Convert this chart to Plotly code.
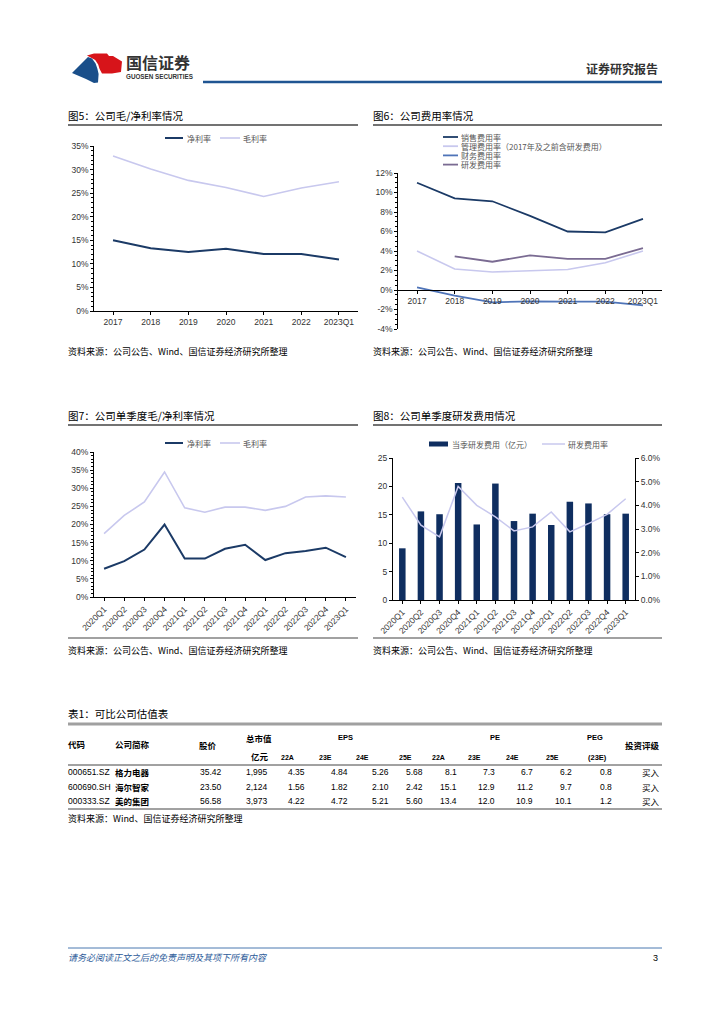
import plotly.graph_objects as go

# page is rendered inside a body with an 8px margin: keep the figure inside the window
OFF = 8
W, H = 708, 1008
FONT = "Liberation Sans, Noto Sans CJK SC, sans-serif"
CJK = "Noto Sans CJK SC, Liberation Sans, sans-serif"

# ---------------- data ----------------
years = ["2017", "2018", "2019", "2020", "2021", "2022", "2023Q1"]
net_margin_annual = [15.0, 13.3, 12.5, 13.2, 12.1, 12.1, 10.9]
gross_margin_annual = [32.9, 30.1, 27.7, 26.2, 24.3, 26.1, 27.4]

sales_exp = [11.0, 9.4, 9.1, 7.6, 6.0, 5.9, 7.3]
admin_exp = [4.0, 2.15, 1.85, 2.0, 2.1, 2.8, 4.0]
fin_exp = [0.27, -0.58, -1.26, -1.16, -1.2, -1.2, -1.57]
rd_exp = [None, 3.45, 2.9, 3.55, 3.2, 3.2, 4.3]
exp_ticks = [-4, -2, 0, 2, 4, 6, 8, 10, 12]
exp_ticklabels = ["-4%", "-2%", "0%", "2%", "4%", "6%", "8%", "10%", "12%"]

quarters = ["2020Q1", "2020Q2", "2020Q3", "2020Q4", "2021Q1", "2021Q2", "2021Q3",
            "2021Q4", "2022Q1", "2022Q2", "2022Q3", "2022Q4", "2023Q1"]
net_margin_q = [7.8, 9.9, 13.1, 20.0, 10.6, 10.6, 13.3, 14.4, 10.2, 12.1, 12.7, 13.6, 11.0]
gross_margin_q = [17.5, 22.5, 26.2, 34.5, 24.6, 23.4, 24.8, 24.8, 23.9, 25.0, 27.6, 27.9, 27.6]
rd_amount_q = [9.1, 15.6, 15.1, 20.6, 13.3, 20.5, 13.9, 15.2, 13.2, 17.3, 17.0, 15.1, 15.2]
rd_ratio_q = [4.35, 3.16, 2.67, 4.8, 4.0, 3.51, 2.92, 3.09, 3.72, 2.88, 3.23, 3.62, 4.28]

codes = ["000651.SZ", "600690.SH", "000333.SZ"]
names = ["格力电器", "海尔智家", "美的集团"]
prices = [35.42, 23.50, 56.58]
mktcaps = [1995, 2124, 3973]
eps = [[4.35, 4.84, 5.26, 5.68], [1.56, 1.82, 2.10, 2.42], [4.22, 4.72, 5.21, 5.60]]
pe = [[8.1, 7.3, 6.7, 6.2], [15.1, 12.9, 11.2, 9.7], [13.4, 12.0, 10.9, 10.1]]
peg = [0.8, 0.8, 1.2]
ratings = ["买入", "买入", "买入"]
year_cols = ["22A", "23E", "24E", "25E"]

# ---------------- colours ----------------
NAVY = "#1b3a66"
LAV = "#c8c8ee"
FINBLUE = "#4f74b8"
RDPURP = "#7a6b92"
BAR = "#0f2e60"


def px(x):
    return (x - OFF) / W


def py(y):
    return 1 - (y - OFF) / H


fig = go.Figure()

# chart 5
fig.add_trace(go.Scatter(x=years, y=net_margin_annual, xaxis="x", yaxis="y", mode="lines",
                         line=dict(color=NAVY, width=2), showlegend=False))
fig.add_trace(go.Scatter(x=years, y=gross_margin_annual, xaxis="x", yaxis="y", mode="lines",
                         line=dict(color=LAV, width=1.6), showlegend=False))
# chart 6
fig.add_trace(go.Scatter(x=years, y=sales_exp, xaxis="x2", yaxis="y2", mode="lines",
                         line=dict(color=NAVY, width=1.8), showlegend=False))
fig.add_trace(go.Scatter(x=years, y=admin_exp, xaxis="x2", yaxis="y2", mode="lines",
                         line=dict(color=LAV, width=1.6), showlegend=False))
fig.add_trace(go.Scatter(x=years, y=fin_exp, xaxis="x2", yaxis="y2", mode="lines",
                         line=dict(color=FINBLUE, width=1.8), showlegend=False))
fig.add_trace(go.Scatter(x=years, y=rd_exp, xaxis="x2", yaxis="y2", mode="lines",
                         line=dict(color=RDPURP, width=1.8), showlegend=False))
# chart 7
fig.add_trace(go.Scatter(x=quarters, y=net_margin_q, xaxis="x3", yaxis="y3", mode="lines",
                         line=dict(color=NAVY, width=2), showlegend=False))
fig.add_trace(go.Scatter(x=quarters, y=gross_margin_q, xaxis="x3", yaxis="y3", mode="lines",
                         line=dict(color=LAV, width=1.6), showlegend=False))
# chart 8
fig.add_trace(go.Bar(x=quarters, y=rd_amount_q, xaxis="x4", yaxis="y4", marker_color=BAR,
                     width=0.35, showlegend=False))
fig.add_trace(go.Scatter(x=quarters, y=rd_ratio_q, xaxis="x4", yaxis="y5", mode="lines",
                         line=dict(color=LAV, width=1.5), showlegend=False))

tickfont = dict(size=8.5, color="#333", family=FONT)
base_ax = dict(showline=True, linecolor="#000", linewidth=1, showgrid=False, zeroline=False,
               ticks="outside", ticklen=3, tickcolor="#000", tickfont=tickfont,
               fixedrange=True, automargin=False)

fig.update_layout(
    template="none",
    width=W, height=H, margin=dict(l=0, r=0, t=0, b=0, pad=0), autosize=False,
    paper_bgcolor="white", plot_bgcolor="white", showlegend=False,
    font=dict(family=FONT),
    xaxis=dict(base_ax, domain=[px(94.2), px(357.8)], anchor="y", type="category",
               range=[-0.5, 6.5]),
    yaxis=dict(base_ax, domain=[py(311), py(146)], anchor="x", range=[0, 35], dtick=5,
               ticksuffix="%", minor=dict(ticks="outside", ticklen=2, dtick=1, tickcolor="#000")),
    xaxis2=dict(base_ax, domain=[px(398.2), px(661.8)], anchor="free", position=py(290),
                type="category", range=[-0.5, 6.5]),
    yaxis2=dict(base_ax, domain=[py(329), py(173)], anchor="x2", range=[-4, 12],
                tickvals=exp_ticks, ticktext=exp_ticklabels,
                minor=dict(ticks="outside", ticklen=2, dtick=0.5, tickcolor="#000")),
    xaxis3=dict(base_ax, domain=[px(94), px(356)], anchor="y3", type="category",
                range=[-0.5, 12.5], tickangle=-45),
    yaxis3=dict(base_ax, domain=[py(597), py(452)], anchor="x3", range=[0, 40], dtick=5,
                ticksuffix="%", minor=dict(ticks="outside", ticklen=2, dtick=1, tickcolor="#000")),
    xaxis4=dict(base_ax, domain=[px(393), px(635)], anchor="y4", type="category",
                range=[-0.5, 12.5], tickangle=-45),
    yaxis4=dict(base_ax, domain=[py(600), py(458)], anchor="x4", range=[0, 25], dtick=5),
    yaxis5=dict(base_ax, overlaying="y4", side="right", anchor="x4", range=[0, 6], dtick=1,
                tickformat=".1f", ticksuffix="%"),
)


def text(x, y, s, size=9, anchor="left", color="#000", family=CJK):
    fig.add_annotation(x=px(x), y=py(y), xref="paper", yref="paper", text=s, showarrow=False,
                       xanchor=anchor, yanchor="middle", borderpad=0, borderwidth=0,
                       font=dict(size=size, color=color, family=family))


def hline(x0, x1, y, color="#000", width=1):
    fig.add_shape(type="line", xref="paper", yref="paper", x0=px(x0), x1=px(x1),
                  y0=py(y), y1=py(y), line=dict(color=color, width=width))


def poly(points, color):
    path = "M " + " L ".join(f"{px(a):.5f},{py(b):.5f}" for a, b in points) + " Z"
    fig.add_shape(type="path", xref="paper", yref="paper", path=path,
                  fillcolor=color, line=dict(width=0))


# ---------- page header ----------
poly([(87, 55.5), (94, 53.5), (107, 53.5), (109, 56), (113, 56), (122, 61.5), (121, 72),
      (112, 73.5), (102, 73.5), (99.6, 69), (98.2, 64.5), (95.2, 60)], "#d7141a")
poly([(72, 73), (88, 57), (92, 58.5), (95.6, 63.5), (97.4, 68.8), (98.6, 74), (98, 82.5),
      (94, 83), (86, 79)], "#1a4f8a")
text(126, 62, "<b>国信证券</b>", size=16, color="#333")
text(126, 77, "<b>GUOSEN SECURITIES</b>", size=6.3, color="#333", family=FONT)
text(658, 68, "<b>证券研究报告</b>", size=12, anchor="right", color="#333")
hline(203, 662, 82, color="#1f5592", width=2.5)

# ---------- figure titles ----------
text(68, 116, "图5：公司毛/净利率情况", size=10.5)
text(373, 116, "图6：公司费用率情况", size=10.5)
hline(68, 358, 125, color="#444", width=1.5)
hline(373, 662, 125, color="#444", width=1.5)
text(68, 351, "资料来源：公司公告、Wind、国信证券经济研究所整理", size=9)
text(373, 351, "资料来源：公司公告、Wind、国信证券经济研究所整理", size=9)

text(68, 415, "图7：公司单季度毛/净利率情况", size=10.5)
text(373, 415, "图8：公司单季度研发费用情况", size=10.5)
hline(68, 358, 425, color="#444", width=1.5)
hline(373, 662, 425, color="#444", width=1.5)
hline(68, 358, 638, color="#444", width=1.2)
hline(373, 662, 638, color="#444", width=1.2)
text(68, 650, "资料来源：公司公告、Wind、国信证券经济研究所整理", size=9)
text(373, 650, "资料来源：公司公告、Wind、国信证券经济研究所整理", size=9)

# ---------- legends (manual) ----------
LEG = "#555"
for yy in (138, 443):
    hline(165, 183, yy, NAVY, 2)
    text(187, yy, "净利率", size=8, color=LEG)
    hline(220, 240, yy, LAV, 1.6)
    text(243, yy, "毛利率", size=8, color=LEG)

leg6 = [("销售费用率", NAVY), ("管理费用率（2017年及之前含研发费用）", LAV),
        ("财务费用率", FINBLUE), ("研发费用率", RDPURP)]
for i, (lab, col) in enumerate(leg6):
    yy = 137 + 9.2 * i
    hline(443, 458, yy, col, 1.8)
    text(461, yy, lab, size=8, color=LEG)

fig.add_shape(type="rect", xref="paper", yref="paper", x0=px(429), x1=px(448), y0=py(446.5),
              y1=py(441.5), fillcolor=BAR, line=dict(width=0))
text(452, 444, "当季研发费用（亿元）", size=8, color=LEG)
hline(542, 565, 444, LAV, 1.5)
text(568, 444, "研发费用率", size=8, color=LEG)

# ---------- table ----------
text(68, 713, "表1：可比公司估值表", size=10.5)
hline(68, 662, 724, color="#a0a0a0", width=3)
hline(68, 662, 765, color="#444", width=1)
hline(68, 662, 809, color="#444", width=1)

HS = 8.5
text(68, 744, "<b>代码</b>", size=HS)
text(115, 744, "<b>公司简称</b>", size=HS)
text(208, 745, "<b>股价</b>", size=HS, anchor="center")
text(259, 738, "<b>总市值</b>", size=HS, anchor="center")
text(260, 756, "<b>亿元</b>", size=HS, anchor="center")
text(345, 737, "<b>EPS</b>", size=7.5, anchor="center", family=FONT)
text(495, 737, "<b>PE</b>", size=7.5, anchor="center", family=FONT)
text(595, 737, "<b>PEG</b>", size=7.5, anchor="center", family=FONT)
text(597, 757, "<b>(23E)</b>", size=7.5, anchor="center", family=FONT)
text(642, 745, "<b>投资评级</b>", size=HS, anchor="center")
eps_hdr_x = [287, 325, 362, 405]
pe_hdr_x = [438, 475, 513, 552]
for j, lab in enumerate(year_cols):
    text(eps_hdr_x[j], 757, "<b>" + lab + "</b>", size=7, anchor="center", family=FONT)
    text(pe_hdr_x[j], 757, "<b>" + lab + "</b>", size=7, anchor="center", family=FONT)

eps_x = [305, 348, 389, 423]
pe_x = [457, 495, 533, 572]
row_y = [772, 786.5, 801]
TS = 8.5
for i in range(len(codes)):
    yy = row_y[i]
    text(68, yy, codes[i], size=TS, family=FONT)
    text(115, yy, "<b>" + names[i] + "</b>", size=TS)
    text(222, yy, f"{prices[i]:.2f}", size=TS, anchor="right", family=FONT)
    text(268, yy, f"{mktcaps[i]:,}", size=TS, anchor="right", family=FONT)
    for j in range(4):
        text(eps_x[j], yy, f"{eps[i][j]:.2f}", size=TS, anchor="right", family=FONT)
        text(pe_x[j], yy, f"{pe[i][j]:.1f}", size=TS, anchor="right", family=FONT)
    text(612, yy, f"{peg[i]:.1f}", size=TS, anchor="right", family=FONT)
    text(660, yy, ratings[i], size=TS, anchor="right")
text(68, 818, "资料来源：Wind、国信证券经济研究所整理", size=9)

# ---------- footer ----------
hline(68, 662, 948, color="#4a79b0", width=1)
text(68, 957, "<i>请务必阅读正文之后的免责声明及其项下所有内容</i>", size=9, color="#2e5c9a")
text(658, 958, "3", size=9, anchor="right", family=FONT)

fig.write_html("out.html")
